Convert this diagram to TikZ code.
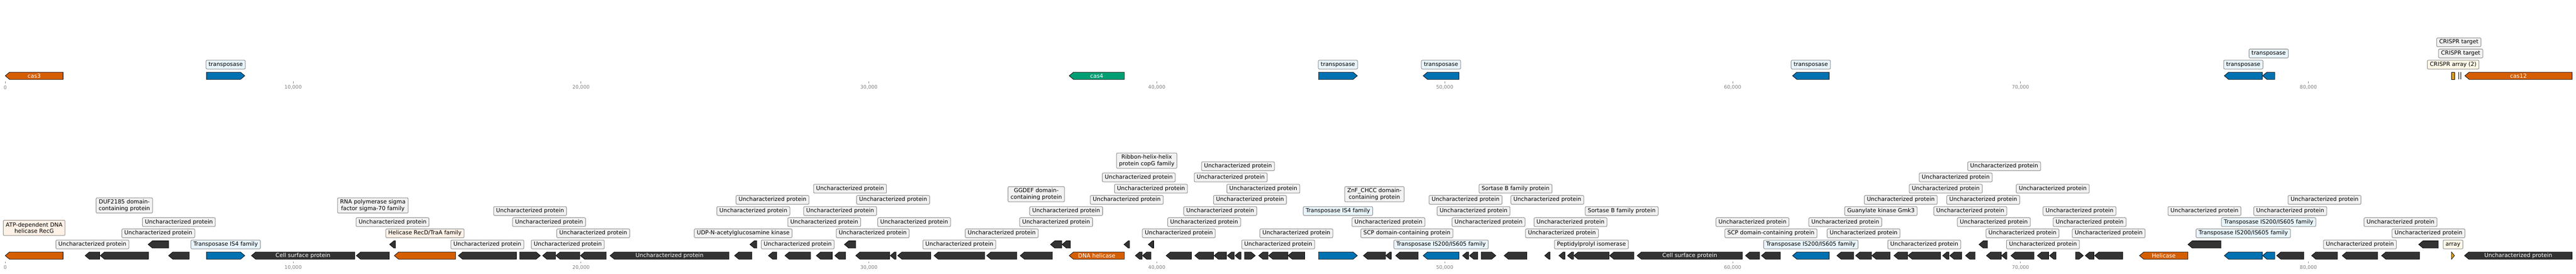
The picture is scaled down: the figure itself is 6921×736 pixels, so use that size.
\documentclass[tikz,border=0pt]{standalone}
\usepackage{fontspec}
\setmainfont{DejaVu Sans}
\usetikzlibrary{calc}
\pgfdeclarelayer{bg}
\pgfsetlayers{bg,main}
\definecolor{cOr}{HTML}{D55E00}
\definecolor{cBl}{HTML}{0072B2}
\definecolor{cGr}{HTML}{009E73}
\definecolor{cYe}{HTML}{E69F00}
\definecolor{cDk}{HTML}{333333}
\definecolor{fGy}{HTML}{F2F2F2}
\definecolor{fBl}{HTML}{E8F5FC}
\definecolor{fOr}{HTML}{FFF1E6}
\definecolor{fYe}{HTML}{FFF8E7}
\definecolor{bGy}{HTML}{8C8C8C}
\definecolor{tGy}{HTML}{808080}
\definecolor{lGy}{HTML}{444444}
\newcommand\lfont{\fontsize{15.1}{17}\selectfont}
\newcommand\tfont{\fontsize{13.2}{15}\selectfont}
\tikzset{
  gene/.style={draw=black,line width=1.1pt,line join=miter},
  conn/.style={draw=lGy,line width=1pt},
  lbase/.style={draw=bGy,line width=1.4pt,rounded corners=3pt,fill=fGy,inner xsep=6.8pt,inner ysep=0pt,font=\lfont,text=black},
  lbox/.style={lbase,text height=11.5pt,text depth=3.7pt,minimum height=23.7pt},
  ltwo/.style={lbase,align=center,minimum height=41pt},
  gtext/.style={text=white,font=\lfont,inner sep=0pt},
  trackline/.style={draw=black,line width=2.6pt},
  tickmark/.style={draw=tGy,line width=1pt},
  ticklab/.style={text=tGy,font=\tfont,inner sep=0pt}
}
% left-pointing gene: name, x1, x2, yc, colour
\newcommand\mkL[5]{%
  \pgfmathsetmacro\hl{min(11.5,(#3)-(#2))}%
  \draw[gene,fill=#5] (#2,#4) -- ({#2+\hl},{#4-9.7}) -- (#3,{#4-9.7}) -- (#3,{#4+9.7}) -- ({#2+\hl},{#4+9.7}) -- cycle;
  \coordinate (#1) at ({(#2+#3)/2},{#4-9.7});
  \coordinate (#1c) at ({(#2+#3)/2},#4);}
% right-pointing gene
\newcommand\mkR[5]{%
  \pgfmathsetmacro\hl{min(11.5,(#3)-(#2))}%
  \draw[gene,fill=#5] (#3,#4) -- ({#3-\hl},{#4-9.7}) -- (#2,{#4-9.7}) -- (#2,{#4+9.7}) -- ({#3-\hl},{#4+9.7}) -- cycle;
  \coordinate (#1) at ({(#2+#3)/2},{#4-9.7});
  \coordinate (#1c) at ({(#2+#3)/2},#4);}
\newcommand\mkLab[4]{%
  \node[lbox,#3] (#1L) at (#1c |- #2) {#4};
  \begin{pgfonlayer}{bg}\draw[conn] (#1L.south) -- (#1);\end{pgfonlayer}}
\newcommand\mkLabB[4]{%
  \node[ltwo,#3] (#1L) at (#1c |- #2) {#4};
  \begin{pgfonlayer}{bg}\draw[conn] (#1L.south) -- (#1);\end{pgfonlayer}}
\newcommand\mkIn[2]{\node[gtext] (#1T) at (#1c) {#2};}
\newcommand\mkTick[4]{%
  \draw[tickmark] (#2,{#3+15.6}) -- (#2,{#3+20.5});
  \node[ticklab] (#1) at (#2,{#3+31.5}) {#4};}
\begin{document}
\begin{tikzpicture}[x=1pt,y=-1pt]
\useasboundingbox (0,0) rectangle (6921,736);
\fill[white] (0,0) rectangle (6921,736);
% level coordinates
\coordinate (T1) at (0,173.7);
\coordinate (T2) at (0,143.7);
\coordinate (T3) at (0,113.7);
\coordinate (B1) at (0,657);
\coordinate (B2) at (0,627);
\coordinate (B3) at (0,597);
\coordinate (B4) at (0,567.2);
\coordinate (B5) at (0,537.2);
\coordinate (B6) at (0,507.2);
\coordinate (B7) at (0,476.8);
\coordinate (B8) at (0,446.8);
\coordinate (B2d) at (0,612.4);
\coordinate (B4d) at (0,552.1);
\coordinate (B5d) at (0,522);
\coordinate (B8d) at (0,431.8);
% track lines
\coordinate (TS) at (14,203.7);
\coordinate (TE) at (6910.4,203.7);
\coordinate (BS) at (14,687);
\coordinate (BE) at (6910.4,687);
\begin{pgfonlayer}{bg}
\draw[trackline] (TS) -- (TE);
\draw[trackline] (BS) -- (BE);
\end{pgfonlayer}
% ticks
\mkTick{ta0}{14}{203.7}{0}
\mkTick{ta1}{787.5}{203.7}{10,000}
\mkTick{ta2}{1561}{203.7}{20,000}
\mkTick{ta3}{2334.5}{203.7}{30,000}
\mkTick{ta4}{3108}{203.7}{40,000}
\mkTick{ta5}{3881.5}{203.7}{50,000}
\mkTick{ta6}{4655}{203.7}{60,000}
\mkTick{ta7}{5428.5}{203.7}{70,000}
\mkTick{ta8}{6202}{203.7}{80,000}
\mkTick{ba0}{14}{687}{0}
\mkTick{ba1}{787.5}{687}{10,000}
\mkTick{ba2}{1561}{687}{20,000}
\mkTick{ba3}{2334.5}{687}{30,000}
\mkTick{ba4}{3108}{687}{40,000}
\mkTick{ba5}{3881.5}{687}{50,000}
\mkTick{ba6}{4655}{687}{60,000}
\mkTick{ba7}{5428.5}{687}{70,000}
\mkTick{ba8}{6202}{687}{80,000}
% ================= top track =================
\mkL{t1}{14.1}{169.4}{203.7}{cOr}
\mkIn{t1}{cas3}
\mkR{t2}{554.9}{657.7}{203.7}{cBl}
\mkL{t3}{2872.6}{3020.6}{203.7}{cGr}
\mkIn{t3}{cas4}
\mkR{t4}{3542.5}{3646.8}{203.7}{cBl}
\mkL{t5}{3823.6}{3919.8}{203.7}{cBl}
\mkL{t6}{4816}{4914.4}{203.7}{cBl}
\mkL{t7}{5976}{6078.1}{203.7}{cBl}
\mkL{t8}{6078.9}{6111.4}{203.7}{cBl}
\draw[gene,fill=cYe] (6587,194) rectangle (6594.7,213.4);
\coordinate (t9) at (6590.9,194);
\coordinate (t9c) at (6590.9,203.7);
\fill[black] (6605.2,194) rectangle (6607,213.4);
\coordinate (t10) at (6606.1,194);
\coordinate (t10c) at (6606.1,203.7);
\fill[black] (6610.2,194) rectangle (6612,213.4);
\coordinate (t11) at (6611.1,194);
\coordinate (t11c) at (6611.1,203.7);
\mkL{t12}{6622.3}{6910.4}{203.7}{cOr}
\mkIn{t12}{cas12}
\mkLab{t2}{T1}{fill=fBl}{transposase}
\mkLab{t4}{T1}{fill=fBl}{transposase}
\mkLab{t5}{T1}{fill=fBl}{transposase}
\mkLab{t6}{T1}{fill=fBl}{transposase}
\mkLab{t7}{T1}{fill=fBl}{transposase}
\mkLab{t8}{T2}{fill=fBl}{transposase}
\mkLab{t9}{T1}{fill=fYe}{CRISPR array (2)}
\mkLab{t10}{T3}{}{CRISPR target}
\mkLab{t11}{T2}{}{CRISPR target}
% ================= bottom track =================
\mkL{b1}{14}{169.4}{687}{cOr}
\mkL{b2}{228.6}{267.8}{687}{cDk}
\mkL{b3}{269.3}{398.8}{687}{cDk}
\mkL{b4}{398}{452.8}{657}{cDk}
\mkL{b5}{452.8}{508.3}{687}{cDk}
\mkR{b6}{554.9}{657.7}{687}{cBl}
\mkL{b7}{675.4}{952.9}{687}{cDk}
\mkIn{b7}{Cell surface protein}
\mkL{b8}{957.3}{1046.1}{687}{cDk}
\mkL{b9}{1046.8}{1062.4}{657}{cDk}
\mkL{b10}{1059.4}{1224}{687}{cOr}
\mkL{b11}{1231.4}{1387.5}{687}{cDk}
\mkR{b12}{1396.4}{1451.8}{687}{cDk}
\mkL{b13}{1457.8}{1492.5}{687}{cDk}
\mkL{b14}{1493.3}{1557.6}{687}{cDk}
\mkL{b15}{1559.1}{1628.7}{687}{cDk}
\mkL{b16}{1639}{1958.6}{687}{cDk}
\mkIn{b16}{Uncharacterized protein}
\mkL{b17}{1973.4}{2020}{687}{cDk}
\mkL{b18}{2014.8}{2033.3}{657}{cDk}
\mkL{b19}{2064.4}{2086.6}{687}{cDk}
\mkL{b20}{2108.8}{2177.6}{687}{cDk}
\mkL{b21}{2193.1}{2236}{687}{cDk}
\mkL{b22}{2242.7}{2271.6}{687}{cDk}
\mkL{b23}{2268.6}{2299}{657}{cDk}
\mkL{b24}{2299}{2390.3}{687}{cDk}
\mkL{b25}{2391.7}{2407.3}{687}{cDk}
\mkL{b26}{2411.7}{2500.5}{687}{cDk}
\mkL{b27}{2509.4}{2645.5}{687}{cDk}
\mkL{b28}{2650.7}{2732}{687}{cDk}
\mkL{b29}{2740.9}{2827.5}{687}{cDk}
\mkL{b30}{2822.3}{2852.7}{657}{cDk}
\mkL{b31}{2853.4}{2875.6}{657}{cDk}
\mkL{b32}{2872.6}{3020.6}{687}{cOr}
\mkIn{b32}{DNA helicase}
\mkL{b33}{3019.8}{3034.6}{657}{cDk}
\mkL{b34}{3050.2}{3068.7}{687}{cDk}
\mkL{b35}{3069.4}{3092.3}{687}{cDk}
\mkL{b36}{3085}{3099.7}{657}{cDk}
\mkL{b37}{3133}{3201.1}{687}{cDk}
\mkL{b38}{3210}{3260.3}{687}{cDk}
\mkL{b39}{3261.8}{3295}{687}{cDk}
\mkL{b40}{3297.3}{3315.8}{687}{cDk}
\mkL{b41}{3318}{3334.3}{687}{cDk}
\mkR{b42}{3343.9}{3372.7}{687}{cDk}
\mkL{b43}{3381.6}{3406.8}{687}{cDk}
\mkL{b44}{3408.2}{3460.4}{687}{cDk}
\mkL{b45}{3460.4}{3505.5}{687}{cDk}
\mkR{b46}{3542.5}{3646.8}{687}{cBl}
\mkL{b47}{3663}{3722.3}{687}{cDk}
\mkL{b48}{3723}{3737.8}{687}{cDk}
\mkL{b49}{3749.6}{3810.3}{687}{cDk}
\mkL{b50}{3823.6}{3919.8}{687}{cBl}
\mkL{b51}{3929.4}{3945.7}{687}{cDk}
\mkL{b52}{3947.9}{3970}{687}{cDk}
\mkR{b53}{3979.7}{4018.9}{687}{cDk}
\mkL{b54}{4041.1}{4102.5}{687}{cDk}
\mkL{b55}{4149.9}{4164.7}{687}{cDk}
\mkL{b56}{4188.3}{4204.6}{687}{cDk}
\mkL{b57}{4211.3}{4227.6}{687}{cDk}
\mkL{b58}{4228.3}{4323}{687}{cDk}
\mkL{b59}{4324.5}{4389.6}{687}{cDk}
\mkL{b60}{4398.5}{4681.4}{687}{cDk}
\mkIn{b60}{Cell surface protein}
\mkL{b61}{4689.5}{4727.2}{687}{cDk}
\mkL{b62}{4732.4}{4783.5}{687}{cDk}
\mkL{b63}{4816}{4914.4}{687}{cBl}
\mkL{b64}{4935.1}{4980.3}{687}{cDk}
\mkL{b65}{4985.4}{5028.3}{687}{cDk}
\mkL{b66}{5029.1}{5077.9}{687}{cDk}
\mkL{b67}{5088.3}{5125.3}{687}{cDk}
\mkL{b68}{5126}{5214}{687}{cDk}
\mkL{b69}{5219.2}{5236.2}{687}{cDk}
\mkL{b70}{5238.5}{5270.3}{687}{cDk}
\mkL{b71}{5280.6}{5306.5}{687}{cDk}
\mkL{b72}{5316.9}{5339.8}{657}{cDk}
\mkL{b73}{5336.8}{5376.8}{687}{cDk}
\mkL{b74}{5377.5}{5391.6}{687}{cDk}
\mkL{b75}{5402.7}{5464.8}{687}{cDk}
\mkL{b76}{5473.7}{5504}{687}{cDk}
\mkL{b77}{5506.3}{5524}{687}{cDk}
\mkR{b78}{5576.6}{5597.3}{687}{cDk}
\mkL{b79}{5602.4}{5626.1}{687}{cDk}
\mkL{b80}{5627.6}{5703}{687}{cDk}
\mkL{b81}{5748.2}{5878.4}{687}{cOr}
\mkIn{b81}{Helicase}
\mkL{b82}{5878.4}{5967.1}{657}{cDk}
\mkL{b83}{5976}{6078.1}{687}{cBl}
\mkL{b84}{6078.9}{6111.4}{687}{cBl}
\mkL{b85}{6116.6}{6189.8}{687}{cDk}
\mkL{b86}{6210.5}{6280.1}{687}{cDk}
\mkL{b87}{6292.7}{6388.1}{687}{cDk}
\mkL{b88}{6398.5}{6500.5}{687}{cDk}
\mkL{b89}{6498.3}{6550.9}{657}{cDk}
\mkR{b90}{6586.4}{6594.5}{687}{cYe}
\mkL{b91}{6621.2}{6910.4}{687}{cDk}
\mkIn{b91}{Uncharacterized protein}
% bottom labels
\mkLabB{b1}{B2d}{fill=fOr}{ATP-dependent DNA\\helicase RecG}
\mkLab{b2}{B1}{}{Uncharacterized protein}
\mkLabB{b3}{B4d}{}{DUF2185 domain-\\containing protein}
\mkLab{b4}{B2}{}{Uncharacterized protein}
\mkLab{b5}{B3}{}{Uncharacterized protein}
\mkLab{b6}{B1}{fill=fBl}{Transposase IS4 family}
\mkLabB{b8}{B4d}{}{RNA polymerase sigma\\factor sigma-70 family}
\mkLab{b9}{B3}{}{Uncharacterized protein}
\mkLab{b10}{B2}{fill=fOr}{Helicase RecD/TraA family}
\mkLab{b11}{B1}{}{Uncharacterized protein}
\mkLab{b12}{B4}{}{Uncharacterized protein}
\mkLab{b13}{B3}{}{Uncharacterized protein}
\mkLab{b14}{B1}{}{Uncharacterized protein}
\mkLab{b15}{B2}{}{Uncharacterized protein}
\mkLab{b17}{B2}{}{UDP-N-acetylglucosamine kinase}
\mkLab{b18}{B4}{}{Uncharacterized protein}
\mkLab{b19}{B5}{}{Uncharacterized protein}
\mkLab{b20}{B1}{}{Uncharacterized protein}
\mkLab{b21}{B3}{}{Uncharacterized protein}
\mkLab{b22}{B4}{}{Uncharacterized protein}
\mkLab{b23}{B6}{}{Uncharacterized protein}
\mkLab{b24}{B2}{}{Uncharacterized protein}
\mkLab{b25}{B5}{}{Uncharacterized protein}
\mkLab{b26}{B3}{}{Uncharacterized protein}
\mkLab{b27}{B1}{}{Uncharacterized protein}
\mkLab{b28}{B2}{}{Uncharacterized protein}
\mkLabB{b29}{B5d}{}{GGDEF domain-\\containing protein}
\mkLab{b30}{B3}{}{Uncharacterized protein}
\mkLab{b31}{B4}{}{Uncharacterized protein}
\mkLab{b33}{B5}{}{Uncharacterized protein}
\mkLab{b34}{B7}{}{Uncharacterized protein}
\mkLabB{b35}{B8d}{}{Ribbon-helix-helix\\protein copG family}
\mkLab{b36}{B6}{}{Uncharacterized protein}
\mkLab{b37}{B2}{}{Uncharacterized protein}
\mkLab{b38}{B3}{}{Uncharacterized protein}
\mkLab{b39}{B4}{}{Uncharacterized protein}
\mkLab{b40}{B7}{}{Uncharacterized protein}
\mkLab{b41}{B8}{}{Uncharacterized protein}
\mkLab{b42}{B5}{}{Uncharacterized protein}
\mkLab{b43}{B6}{}{Uncharacterized protein}
\mkLab{b44}{B1}{}{Uncharacterized protein}
\mkLab{b45}{B2}{}{Uncharacterized protein}
\mkLab{b46}{B4}{fill=fBl}{Transposase IS4 family}
\mkLabB{b47}{B5d}{}{ZnF\_CHCC domain-\\containing protein}
\mkLab{b48}{B3}{}{Uncharacterized protein}
\mkLab{b49}{B2}{}{SCP domain-containing protein}
\mkLab{b50}{B1}{fill=fBl}{Transposase IS200/IS605 family}
\mkLab{b51}{B5}{}{Uncharacterized protein}
\mkLab{b52}{B4}{}{Uncharacterized protein}
\mkLab{b53}{B3}{}{Uncharacterized protein}
\mkLab{b54}{B6}{}{Sortase B family protein}
\mkLab{b55}{B5}{}{Uncharacterized protein}
\mkLab{b56}{B2}{}{Uncharacterized protein}
\mkLab{b57}{B3}{}{Uncharacterized protein}
\mkLab{b58}{B1}{}{Peptidylprolyl isomerase}
\mkLab{b59}{B4}{}{Sortase B family protein}
\mkLab{b61}{B3}{}{Uncharacterized protein}
\mkLab{b62}{B2}{}{SCP domain-containing protein}
\mkLab{b63}{B1}{fill=fBl}{Transposase IS200/IS605 family}
\mkLab{b64}{B3}{}{Uncharacterized protein}
\mkLab{b65}{B2}{}{Uncharacterized protein}
\mkLab{b66}{B4}{}{Guanylate kinase Gmk3}
\mkLab{b67}{B5}{}{Uncharacterized protein}
\mkLab{b68}{B1}{}{Uncharacterized protein}
\mkLab{b69}{B6}{}{Uncharacterized protein}
\mkLab{b70}{B7}{}{Uncharacterized protein}
\mkLab{b71}{B4}{}{Uncharacterized protein}
\mkLab{b72}{B5}{}{Uncharacterized protein}
\mkLab{b73}{B3}{}{Uncharacterized protein}
\mkLab{b74}{B8}{}{Uncharacterized protein}
\mkLab{b75}{B2}{}{Uncharacterized protein}
\mkLab{b76}{B1}{}{Uncharacterized protein}
\mkLab{b77}{B6}{}{Uncharacterized protein}
\mkLab{b78}{B4}{}{Uncharacterized protein}
\mkLab{b79}{B3}{}{Uncharacterized protein}
\mkLab{b80}{B2}{}{Uncharacterized protein}
\mkLab{b82}{B4}{}{Uncharacterized protein}
\mkLab{b83}{B2}{fill=fBl}{Transposase IS200/IS605 family}
\mkLab{b84}{B3}{fill=fBl}{Transposase IS200/IS605 family}
\mkLab{b85}{B4}{}{Uncharacterized protein}
\mkLab{b86}{B5}{}{Uncharacterized protein}
\mkLab{b87}{B1}{}{Uncharacterized protein}
\mkLab{b88}{B3}{}{Uncharacterized protein}
\mkLab{b89}{B2}{}{Uncharacterized protein}
\mkLab{b90}{B1}{fill=fYe}{array}
\end{tikzpicture}
\end{document}
